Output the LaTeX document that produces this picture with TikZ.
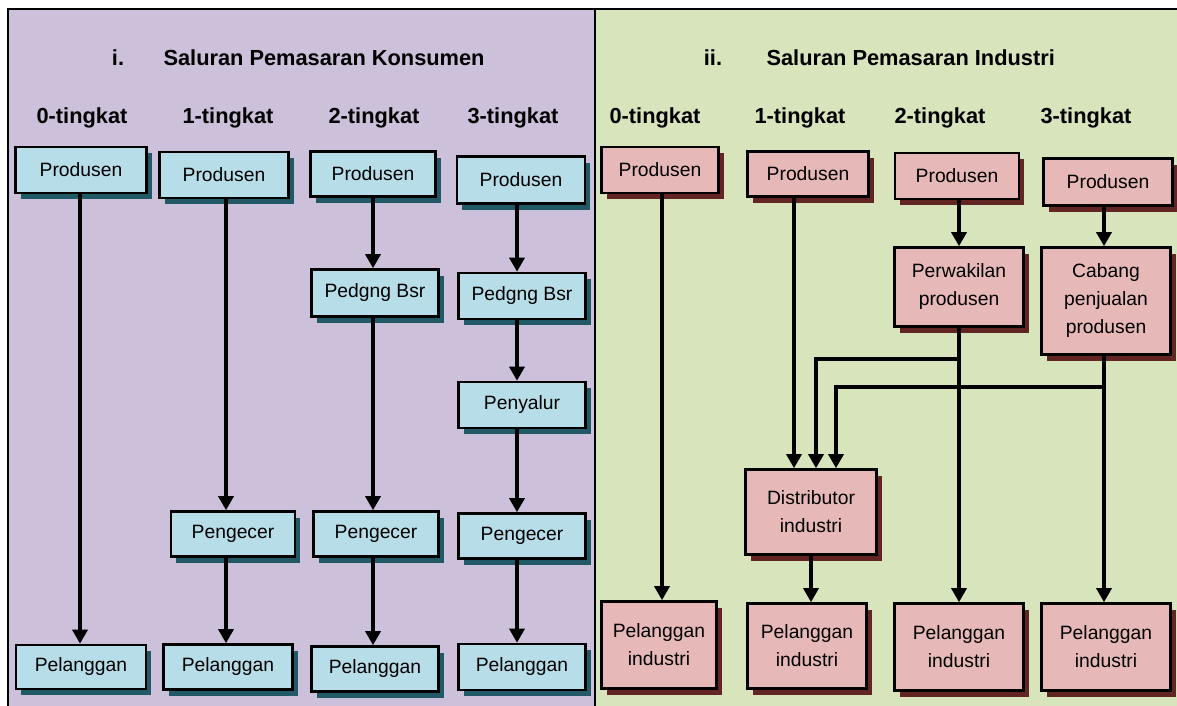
\documentclass[tikz,border=0pt]{standalone}
\usepackage{fontspec}
\setmainfont{Liberation Sans}
\usetikzlibrary{arrows.meta,shadows}
\definecolor{konbg}{HTML}{CCC0DA}
\definecolor{indbg}{HTML}{D8E4BC}
\definecolor{kfill}{HTML}{B7DEE8}
\definecolor{kshade}{HTML}{215967}
\definecolor{ifill}{HTML}{E6B9B8}
\definecolor{ishade}{HTML}{632523}

\begin{document}
\begin{tikzpicture}[x=1pt,y=-1pt,
  box/.style={draw,line width=2.6pt,align=center,inner sep=2pt,font=\fontsize{19.3}{28}\selectfont},
  kbox/.style={box,fill=kfill,general shadow={fill=kshade,shadow xshift=5pt,shadow yshift=-6pt}},
  ibox/.style={box,fill=ifill,general shadow={fill=ishade,shadow xshift=5pt,shadow yshift=-6pt}},
  head/.style={font=\fontsize{21.8}{24}\selectfont\bfseries},
  arr/.style={-{Triangle[length=14pt,width=15pt]},line width=3.2pt}]
\useasboundingbox (0,0) rectangle (1177,706);
% panels
\fill[konbg] (8,9) rectangle (595,706);
\fill[indbg] (595,9) rectangle (1177,706);
\draw[line width=2pt] (8,706) -- (8,9) -- (1177,9);
\draw[line width=2.6pt] (595,9) -- (595,706);
% titles
\node[head] (kno) at (118,58) {i.};
\node[head,anchor=west] (ktitle) at (160,58) {Saluran Pemasaran Konsumen};
\node[head] (ino) at (713,58) {ii.};
\node[head,anchor=west] (ititle) at (763,58) {Saluran Pemasaran Industri};
\node[head] (kh0) at (82,118) {0-tingkat};
\node[head] (kh1) at (228,118) {1-tingkat};
\node[head] (kh2) at (374,118) {2-tingkat};
\node[head] (kh3) at (513,118) {3-tingkat};
\node[head] (ih0) at (655,118) {0-tingkat};
\node[head] (ih1) at (800,118) {1-tingkat};
\node[head] (ih2) at (940,118) {2-tingkat};
\node[head] (ih3) at (1086,118) {3-tingkat};
% column lines
\coordinate (k0) at (80,0);
\coordinate (k1) at (226,0);
\coordinate (k2) at (373,0);
\coordinate (k3) at (517,0);
\coordinate (i0) at (662,0);
\coordinate (i1) at (794,0);
\coordinate (i2) at (959,0);
\coordinate (i3) at (1104,0);
\coordinate (j1) at (816,359);
\coordinate (j2) at (836,387);
% konsumen
\node[kbox,minimum width=131pt,minimum height=46pt] (c0prod) at (81,170) {Produsen};
\node[kbox,minimum width=129pt,minimum height=46pt] (c1prod) at (224,175) {Produsen};
\node[kbox,minimum width=125pt,minimum height=45pt] (c2prod) at (373,174) {Produsen};
\node[kbox,minimum width=128pt,minimum height=47pt] (c3prod) at (521,180) {Produsen};
\node[kbox,minimum width=127pt,minimum height=47pt] (c2bsr) at (375,293) {Pedgng Bsr};
\node[kbox,minimum width=127pt,minimum height=46pt] (c3bsr) at (522,296) {Pedgng Bsr};
\node[kbox,minimum width=127pt,minimum height=46pt] (c3sal) at (522,405) {Penyalur};
\node[kbox,minimum width=124pt,minimum height=45pt] (c1ecer) at (233,534) {Pengecer};
\node[kbox,minimum width=125pt,minimum height=45pt] (c2ecer) at (376,534) {Pengecer};
\node[kbox,minimum width=127pt,minimum height=45pt] (c3ecer) at (522,536) {Pengecer};
\node[kbox,minimum width=130pt,minimum height=44pt] (c0pel) at (81,667) {Pelanggan};
\node[kbox,minimum width=129pt,minimum height=45pt] (c1pel) at (228,667) {Pelanggan};
\node[kbox,minimum width=127pt,minimum height=45pt] (c2pel) at (375,669) {Pelanggan};
\node[kbox,minimum width=127pt,minimum height=46pt] (c3pel) at (522,667) {Pelanggan};
% industri
\node[ibox,minimum width=117pt,minimum height=46pt] (r0prod) at (660,170) {Produsen};
\node[ibox,minimum width=121pt,minimum height=45pt] (r1prod) at (808,174) {Produsen};
\node[ibox,minimum width=124pt,minimum height=46pt] (r2prod) at (957,176) {Produsen};
\node[ibox,minimum width=129pt,minimum height=47pt] (r3prod) at (1108,182) {Produsen};
\node[ibox,minimum width=129pt,minimum height=79pt] (r2wak) at (959,287) {Perwakilan\\produsen};
\node[ibox,minimum width=129pt,minimum height=107pt] (r3cab) at (1106,301) {Cabang\\penjualan\\produsen};
\node[ibox,minimum width=131pt,minimum height=85pt] (r1dist) at (811,512) {Distributor\\industri};
\node[ibox,minimum width=115pt,minimum height=87pt] (r0pel) at (659,645) {Pelanggan\\industri};
\node[ibox,minimum width=119pt,minimum height=85pt] (r1pel) at (807,646) {Pelanggan\\industri};
\node[ibox,minimum width=129pt,minimum height=87pt] (r2pel) at (959,647) {Pelanggan\\industri};
\node[ibox,minimum width=129pt,minimum height=87pt] (r3pel) at (1106,647) {Pelanggan\\industri};
% connectors
\draw[arr] (c0prod.south -| k0) -- (c0pel.north -| k0);
\draw[arr] (c1prod.south -| k1) -- (c1ecer.north -| k1);
\draw[arr] (c1ecer.south -| k1) -- (c1pel.north -| k1);
\draw[arr] (c2prod.south -| k2) -- (c2bsr.north -| k2);
\draw[arr] (c2bsr.south -| k2) -- (c2ecer.north -| k2);
\draw[arr] (c2ecer.south -| k2) -- (c2pel.north -| k2);
\draw[arr] (c3prod.south -| k3) -- (c3bsr.north -| k3);
\draw[arr] (c3bsr.south -| k3) -- (c3sal.north -| k3);
\draw[arr] (c3sal.south -| k3) -- (c3ecer.north -| k3);
\draw[arr] (c3ecer.south -| k3) -- (c3pel.north -| k3);
\draw[arr] (r0prod.south -| i0) -- (r0pel.north -| i0);
\draw[arr] (r1prod.south -| i1) -- (r1dist.north -| i1);
\draw[arr] (r1dist) -- (r1dist |- r1pel.north);
\draw[arr] (r2prod.south -| i2) -- (r2wak.north -| i2);
\draw[arr] (r2wak.south -| i2) -- (r2pel.north -| i2);
\draw[arr] (j1 -| i2) -| (r1dist.north -| j1);
\draw[arr] (r3prod.south -| i3) -- (r3cab.north -| i3);
\draw[arr] (r3cab.south -| i3) -- (r3pel.north -| i3);
\draw[arr] (j2 -| i3) -| (r1dist.north -| j2);
\end{tikzpicture}
\end{document}
